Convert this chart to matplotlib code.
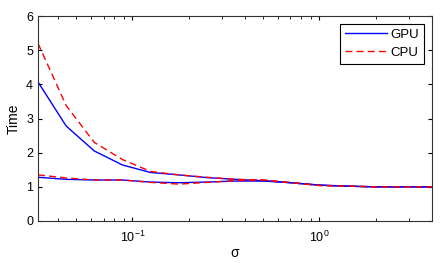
import numpy as np
import matplotlib
matplotlib.use("Agg")
import matplotlib.pyplot as plt

plt.rcParams['font.family'] = ['Liberation Sans', 'DejaVu Sans']

# sigma sampled in half-octave steps from 1/32 to 4
sigma = [0.03125, 0.0442, 0.0625, 0.0884, 0.125, 0.1768, 0.25, 0.3536,
         0.5, 0.7071, 1.0, 1.4142, 2.0, 2.8284, 4.0]

gpu_hi = [4.07, 2.78, 2.05, 1.64, 1.42, 1.35, 1.27, 1.22, 1.18, 1.12, 1.05, 1.02, 1.0, 1.0, 1.0]
gpu_lo = [1.28, 1.22, 1.20, 1.20, 1.14, 1.12, 1.14, 1.17, 1.17, 1.12, 1.05, 1.02, 1.0, 1.0, 1.0]
cpu_hi = [5.20, 3.38, 2.30, 1.80, 1.45, 1.35, 1.28, 1.22, 1.20, 1.12, 1.04, 1.02, 1.0, 1.0, 1.0]
cpu_lo = [1.35, 1.26, 1.20, 1.20, 1.13, 1.08, 1.13, 1.18, 1.20, 1.12, 1.04, 1.02, 1.0, 1.0, 1.0]

fig = plt.figure(figsize=(4.41, 2.63), dpi=100)
ax = fig.add_axes([0.0862, 0.1597, 0.8934, 0.7793])

ax.plot(sigma, gpu_hi, 'b-', lw=1.0, label='GPU')
ax.plot(sigma, cpu_hi, 'r--', lw=1.0, dashes=(5, 3), label='CPU')
ax.plot(sigma, gpu_lo, 'b-', lw=1.0)
ax.plot(sigma, cpu_lo, 'r--', lw=1.0, dashes=(5, 3))

ax.set_xscale('log')
ax.set_xlim(0.03125, 4)
ax.set_ylim(0, 6)
ax.set_yticks(range(7))
ax.tick_params(which='both', direction='in', top=True, right=True, labelsize=9)
ax.tick_params(which='major', length=3)
ax.tick_params(which='minor', length=2)
ax.tick_params(axis='x', which='major', pad=6)
for s in ax.spines.values():
    s.set_color('#333333')
ax.set_xlabel('σ', fontsize=10, labelpad=1)
ax.set_ylabel('Time', fontsize=10, labelpad=4)

leg = ax.legend(loc='upper right', fontsize=9.5, fancybox=False, edgecolor='black',
                framealpha=1, handlelength=3.2, borderpad=0.35, labelspacing=0.45,
                handletextpad=0.3, borderaxespad=0.6)
leg.get_frame().set_linewidth(0.8)

fig.savefig('out.png', dpi=100)
